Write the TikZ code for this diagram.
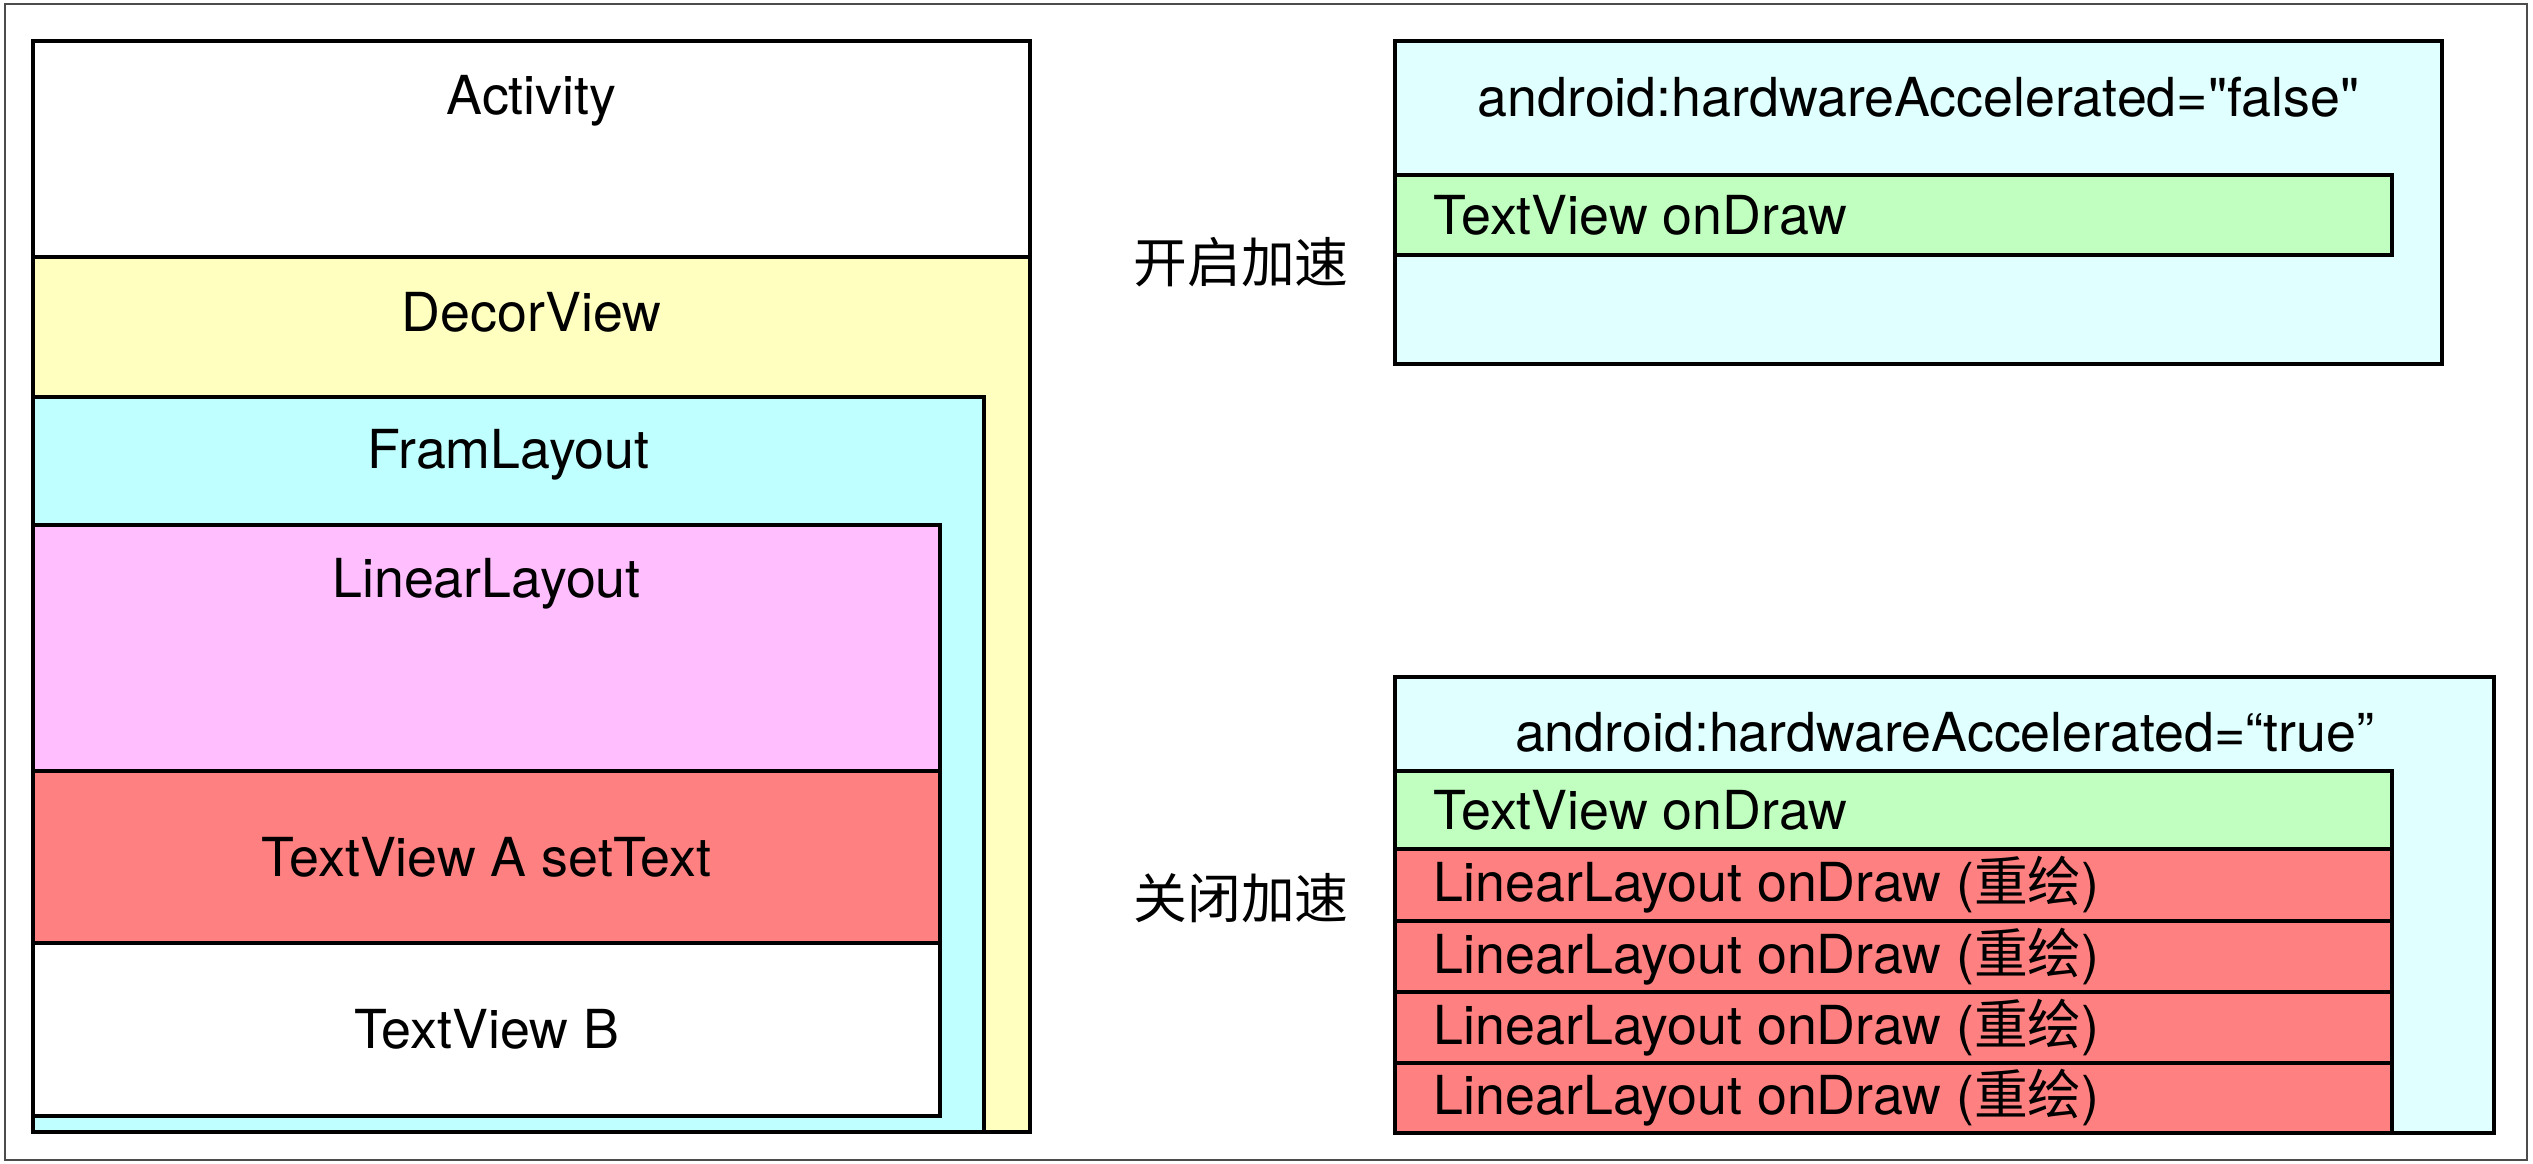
\documentclass[tikz,border=0pt]{standalone}
\usepackage{fontspec}
\newfontfamily\heros{TeX Gyre Heros}
\newfontfamily\cjk{Noto Sans CJK SC}
\usepackage{xcolor}
\usepackage{tikz}
\usetikzlibrary{positioning}
\definecolor{decorYellow}{HTML}{FFFFC0}
\definecolor{framCyan}{HTML}{C0FFFF}
\definecolor{linearPink}{HTML}{FFBFFF}
\definecolor{viewRed}{HTML}{FF8080}
\definecolor{hwCyan}{HTML}{E0FFFF}
\definecolor{drawGreen}{HTML}{C0FFC0}

\begin{document}
\begin{tikzpicture}[
    box/.style={draw, line width=0.9pt},
    lbl/.style={font=\heros\fontsize{15.3pt}{18pt}\selectfont, inner sep=0pt},
    cjklbl/.style={font=\cjk\fontsize{15.3pt}{18pt}\selectfont, inner sep=0pt}
]
    \useasboundingbox (0,0) rectangle (25.33,11.64);
    \draw[gray!60!black, line width=0.5pt] (0.05,0.04) rectangle (25.27,11.60);

    % View hierarchy
    \begin{scope}
        \draw[box, fill=white] (0.33,0.32) rectangle (10.30,11.23);
        \node[lbl] (activity) at (5.315,10.63) {Activity};
        \draw[box, fill=decorYellow] (0.33,0.32) rectangle (10.30,9.07);
        \node[lbl] (decor) at (5.315,8.52) {DecorView};
        \draw[box, fill=framCyan] (0.33,0.32) rectangle (9.84,7.67);
        \node[lbl] (fram) at (5.085,7.09) {FramLayout};
        \draw[box, fill=linearPink] (0.33,0.48) rectangle (9.40,6.39);
        \node[lbl] (linear) at (4.865,5.80) {LinearLayout};
        \draw[box, fill=viewRed] (0.33,2.21) rectangle (9.40,3.93);
        \node[lbl] (textA) at (4.865,3.07) {TextView A setText};
        \draw[box, fill=white] (0.33,0.48) rectangle (9.40,2.21);
        \node[lbl] (textB) at (4.865,1.345) {TextView B};
    \end{scope}

    % hardwareAccelerated = false
    \begin{scope}
        \node[cjklbl] (onLabel) at (12.41,9.02) {开启加速};
        \draw[box, fill=hwCyan] (13.95,8.00) rectangle (24.42,11.23);
        \node[lbl] (offTitle) at (19.185,10.67) {android:hardwareAccelerated="false"};
        \draw[box, fill=drawGreen] (13.95,9.09) rectangle (23.92,9.89);
        \node[lbl, anchor=west] (offRow) at (14.33,9.49) {TextView onDraw};
    \end{scope}

    % hardwareAccelerated = true
    \begin{scope}
        \node[cjklbl] (offLabel) at (12.41,2.66) {关闭加速};
        \draw[box, fill=hwCyan] (13.95,0.31) rectangle (24.94,4.87);
        \node[lbl] (onTitle) at (19.445,4.32) {android:hardwareAccelerated=“true”};
        \draw[box, fill=drawGreen] (13.95,3.15) rectangle (23.92,3.93);
        \node[lbl, anchor=west] (onRow) at (14.33,3.54) {TextView onDraw};
        \foreach \i/\top/\bot in {1/3.15/2.43, 2/2.43/1.72, 3/1.72/1.01, 4/1.01/0.31} {
            \pgfmathsetmacro{\mid}{(\top+\bot)/2}
            \draw[box, fill=viewRed] (13.95,\bot) rectangle (23.92,\top);
            \node[lbl, anchor=west] (redraw\i) at (14.33,\mid) {LinearLayout onDraw ({\cjk 重绘})};
        }
    \end{scope}
\end{tikzpicture}
\end{document}
